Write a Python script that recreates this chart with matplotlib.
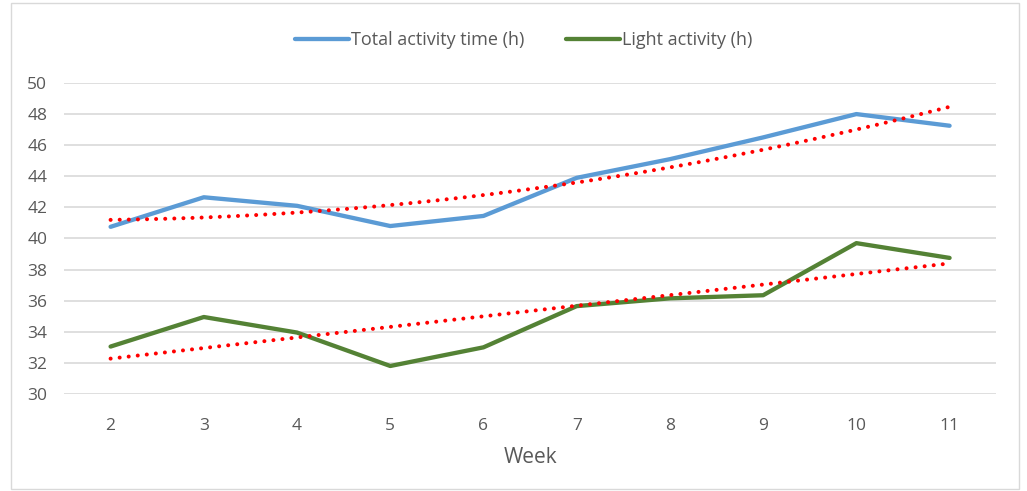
import numpy as np
import matplotlib.pyplot as plt
from matplotlib.patches import Rectangle

weeks = [2, 3, 4, 5, 6, 7, 8, 9, 10, 11]
total_h = [40.75, 42.65, 42.1, 40.8, 41.45, 43.9, 45.1, 46.5, 48.0, 47.25]
light_h = [33.05, 34.95, 33.95, 31.8, 33.0, 35.65, 36.15, 36.35, 39.7, 38.75]

plt.rcParams['font.family'] = ['Open Sans', 'DejaVu Sans']
grey = '#595959'

fig = plt.figure(figsize=(10.27, 4.91), dpi=100)
ax = fig.add_axes([0.0623, 0.1976, 0.9077, 0.6334])

x = np.array(weeks, dtype=float)
ax.plot(x, total_h, color='#5B9BD5', lw=3.1, solid_capstyle='round',
        label='Total activity time (h)', zorder=3)
ax.plot(x, light_h, color='#548235', lw=3.1, solid_capstyle='round',
        label='Light activity (h)', zorder=3)

# excel-style trendlines: polynomial for total, linear for light
xs = np.linspace(x[0], x[-1], 200)
dots = (0, (0.01, 2.25))
ax.plot(xs, np.polyval(np.polyfit(x, total_h, 2), xs), color='#FF0000',
        lw=2.9, linestyle=dots, dash_capstyle='round', zorder=4)
ax.plot(xs, np.polyval(np.polyfit(x, light_h, 1), xs), color='#FF0000',
        lw=2.9, linestyle=dots, dash_capstyle='round', zorder=4)

ax.set_xlim(1.5, 11.5)
ax.set_ylim(30, 50)
ax.set_xticks(weeks)
ax.set_yticks(np.arange(30, 51, 2))
ax.grid(axis='y', color='#D9D9D9', lw=1.2)
ax.set_axisbelow(True)
for s in ax.spines.values():
    s.set_visible(False)
ax.tick_params(length=0, labelsize=12.5, colors=grey)
ax.tick_params(axis='x', pad=17)
ax.tick_params(axis='y', pad=12)
ax.set_xlabel('Week', fontsize=15, color=grey, labelpad=10)

leg = fig.legend(loc='center', bbox_to_anchor=(0.51, 0.918), ncol=2, frameon=False,
                 fontsize=13, handlelength=3.0, handletextpad=0.1, columnspacing=2.3)
for t in leg.get_texts():
    t.set_color(grey)

fig.patches.append(Rectangle((0.0105, 0.004), 0.982, 0.99, transform=fig.transFigure,
                             fill=False, edgecolor='#D9D9D9', lw=1))

plt.savefig('out.png', dpi=100)
